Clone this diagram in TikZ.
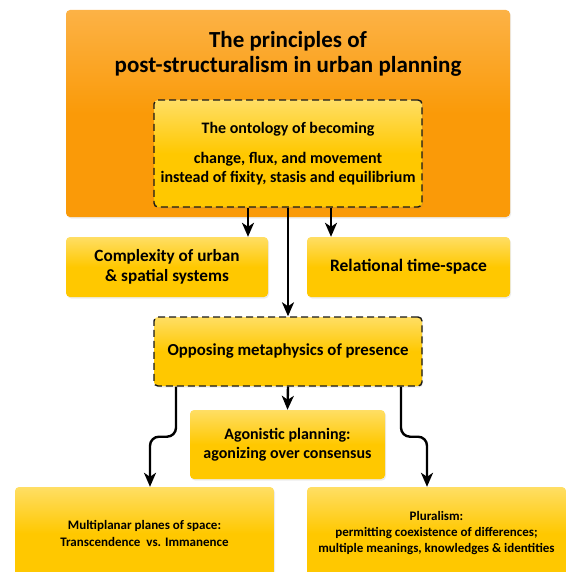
\documentclass[tikz,border=0pt]{standalone}
\usepackage{fontspec}
\setmainfont{Carlito}
\usetikzlibrary{positioning, arrows.meta, shadows}
\definecolor{planorange}{RGB}{250,154,8}
\definecolor{planorangetop}{RGB}{252,178,70}
\definecolor{planyellow}{RGB}{255,200,0}
\definecolor{planyellowtop}{RGB}{255,222,100}
\tikzset{x=1pt, y=-1pt, % One unit is one pixel of the layout
every node/.style={align=center, font=\bfseries},
mainbox/.style={ % The outer orange box
rounded corners=4pt,
top color=planorangetop, bottom color=planorange, middle color=planorange,
drop shadow={opacity=0.15, shadow xshift=1pt, shadow yshift=-1.5pt}},
idea/.style={ % Yellow boxes
rounded corners=4pt,
top color=planyellowtop, bottom color=planyellow, middle color=planyellow,
drop shadow={opacity=0.15, shadow xshift=1pt, shadow yshift=-1.5pt}},
keyidea/.style={ % Dashed yellow boxes
idea, draw=black!90, line width=1.4pt,
dash pattern=on 7pt off 4pt},
link/.style={ % Black connectors
draw, -{Stealth[length=14pt, width=12pt, inset=4pt]}, line width=2.4pt, rounded corners=9pt}}

\begin{document}
\begin{tikzpicture}

    \useasboundingbox (0,0) rectangle (565,572);

    \node[mainbox, minimum width=444pt, minimum height=207pt] (main) at (288,113.5) {};
    \node[font=\bfseries\fontsize{23}{25}\selectfont] (title) at (288,53.5)
        {The principles of\\post-structuralism in urban planning};
    \node[keyidea, minimum width=268pt, minimum height=107pt, font=\bfseries\fontsize{16}{18.5}\selectfont] (onto) at (288,153.5)
        {\raisebox{-3pt}{The ontology of becoming}\\[15pt]change, flux, and movement\\instead of fixity, stasis and equilibrium};

    \node[idea, minimum width=202pt, minimum height=60pt, font=\bfseries\fontsize{17.2}{20}\selectfont] (cplx) at (167,267)
        {Complexity of urban\\\& spatial systems};
    \node[idea, minimum width=203pt, minimum height=60pt, font=\bfseries\fontsize{17.5}{20}\selectfont] (rel) at (408.5,267)
        {Relational time-space};

    \node[keyidea, minimum width=268pt, minimum height=69pt, font=\bfseries\fontsize{16.8}{18}\selectfont] (opp) at (288,351.5)
        {Opposing metaphysics of presence};

    \node[idea, minimum width=195pt, minimum height=69pt, font=\bfseries\fontsize{16}{19}\selectfont] (agon) at (287.5,444.5)
        {Agonistic planning:\\agonizing over consensus};

    \node[idea, minimum width=259pt, minimum height=93pt, font=\bfseries\fontsize{13}{17}\selectfont] (multi) at (144.5,533.5)
        {Multiplanar planes of space:\\Transcendence\ \ vs. Immanence};
    \node[idea, minimum width=259pt, minimum height=93pt, font=\bfseries\fontsize{13}{16}\selectfont] (plural) at (436.5,533.5)
        {Pluralism:\\permitting coexistence of differences;\\multiple meanings, knowledges \& identities};

    \draw[link] ([xshift=-40pt]onto.south) -- ([xshift=-40pt]onto.south |- cplx.north);
    \draw[link] ([xshift=43pt]onto.south) -- ([xshift=43pt]onto.south |- rel.north);
    \draw[link] (onto.south) -- (opp.north);
    \draw[link] (opp.south) -- (agon.north);
    \draw[link] ([xshift=-112pt]opp.south) -- ++(0,50) -| ([xshift=5.5pt]multi.north);
    \draw[link] ([xshift=113pt]opp.south) -- ++(0,50) -| ([xshift=-9.5pt]plural.north);

\end{tikzpicture}
\end{document}
